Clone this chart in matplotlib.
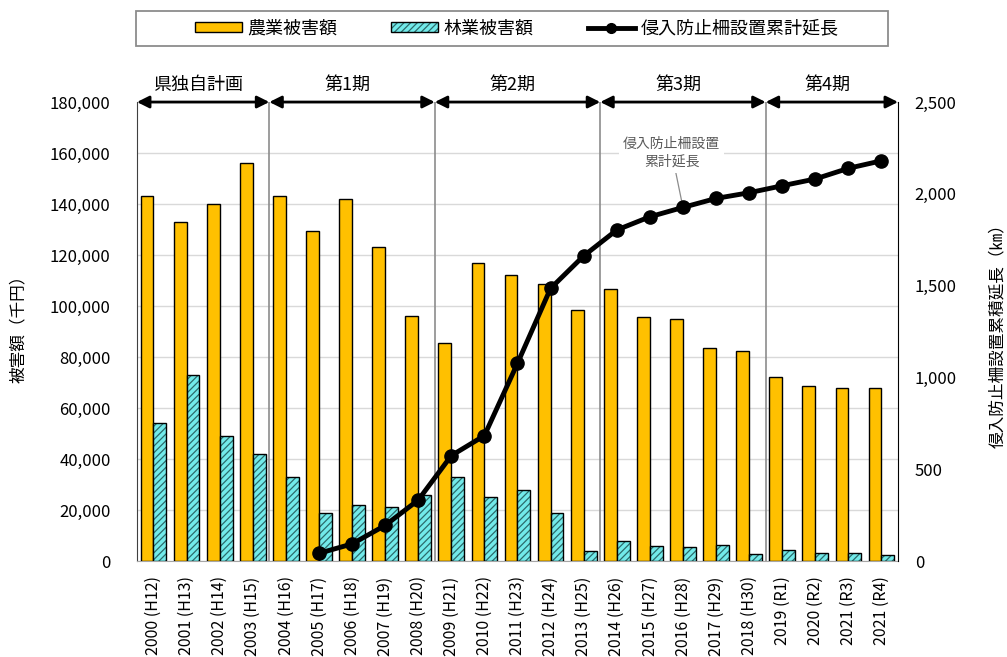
import matplotlib
matplotlib.use("Agg")
import matplotlib.pyplot as plt
import numpy as np
from matplotlib.lines import Line2D
from matplotlib.patches import Patch, Rectangle

plt.rcParams["font.family"] = ["Noto Sans CJK JP", "DejaVu Sans"]
plt.rcParams["hatch.linewidth"] = 0.9

# ---- data ----
years = ["2000 (H12)", "2001 (H13)", "2002 (H14)", "2003 (H15)", "2004 (H16)",
         "2005 (H17)", "2006 (H18)", "2007 (H19)", "2008 (H20)", "2009 (H21)",
         "2010 (H22)", "2011 (H23)", "2012 (H24)", "2013 (H25)", "2014 (H26)",
         "2015 (H27)", "2016 (H28)", "2017 (H29)", "2018 (H30)", "2019 (R1)",
         "2020 (R2)", "2021 (R3)", "2021 (R4)"]
agri = [143000, 133000, 140000, 156000, 143000, 129500, 141800, 123300, 96000,
        85500, 116800, 112200, 108500, 98500, 106700, 95800, 95000, 83500,
        82500, 72000, 68500, 68000, 68000]
forest = [54000, 73000, 49000, 42000, 33000, 19000, 22000, 21000, 26000,
          33000, 25000, 28000, 19000, 4000, 7800, 5700, 5600, 6100,
          2800, 4400, 3200, 3300, 2500]
fence = [None, None, None, None, None, 42, 93, 194, 332, 574, 683, 1077,
         1485, 1662, 1803, 1875, 1926, 1975, 2006, 2044, 2081, 2139, 2180]
periods = ["県独自計画", "第1期", "第2期", "第3期", "第4期"]
period_bounds = [-0.5, 3.5, 8.5, 13.5, 18.5, 22.5]

ORANGE = "#FFC000"
CYAN = "#72EAEA"
HATCH = "#2C6B6B"

x = np.arange(len(years))
w = 0.39

fig = plt.figure(figsize=(10.07, 6.57), dpi=100)
ax = fig.add_axes([0.136, 0.1461, 0.7558, 0.6986])

ax.bar(x - w / 2, agri, w, color=ORANGE, edgecolor="black", lw=1, zorder=3)
ax.bar(x + w / 2, forest, w, color=CYAN, edgecolor=HATCH, lw=0, hatch="/////", zorder=3)
ax.bar(x + w / 2, forest, w, fill=False, edgecolor="black", lw=1, zorder=3)

ax.set_xlim(-0.5, 22.5)
ax.set_ylim(0, 180000)
ax.set_yticks(np.arange(0, 180001, 20000))
ax.set_yticklabels([f"{v:,}" for v in range(0, 180001, 20000)], fontsize=12)
ax.set_xticks(x)
ax.set_xticklabels(years, rotation=90, fontsize=11.5)
ax.tick_params(axis="y", length=0, pad=19)
ax.tick_params(axis="x", length=0, pad=11)
ax.grid(axis="y", color="#d9d9d9", lw=1, zorder=0)

for s in ("top",):
    ax.spines[s].set_visible(False)
ax.spines["bottom"].set_color("#a6a6a6")
ax.spines["left"].set_color("#404040")
ax.spines["right"].set_visible(False)

for b in period_bounds[1:-1]:
    ax.axvline(b, color="#8c8c8c", lw=1.2, zorder=2)

# period arrows + labels
for i, name in enumerate(periods):
    x0, x1 = period_bounds[i], period_bounds[i + 1]
    ax.annotate("", xy=(x0, 180000), xytext=(x1, 180000), annotation_clip=False,
                arrowprops=dict(arrowstyle="<|-|>", color="black", lw=2,
                                mutation_scale=18, shrinkA=0, shrinkB=0), zorder=5)
    ax.text((x0 + x1) / 2 - 0.15, 1.037, name, transform=ax.get_xaxis_transform(),
            ha="center", va="center", fontsize=13)

ax2 = ax.twinx()
ax2.set_ylim(0, 2500)
ax2.set_yticks(np.arange(0, 2501, 500))
ax2.set_yticklabels([f"{v:,}" for v in range(0, 2501, 500)], fontsize=12)
ax2.tick_params(axis="y", length=0, pad=12)
for s in ("top", "left", "bottom"):
    ax2.spines[s].set_visible(False)
ax2.spines["right"].set_color("black")

fx = [xi for xi, v in zip(x, fence) if v is not None]
fy = [v for v in fence if v is not None]
ax2.plot(fx, fy, color="black", lw=3.5, marker="o", ms=9.5, zorder=6)

ax2.annotate("侵入防止柵設置\n累計延長", xy=(16, 1926), xytext=(15.66, 2225),
             ha="center", va="center", fontsize=10, color="#595959", linespacing=1.35,
             bbox=dict(boxstyle="square,pad=0.3", fc="white", ec="none"),
             arrowprops=dict(arrowstyle="-", color="#8c8c8c", lw=0.9, shrinkA=0, shrinkB=3))

fig.text(0.018, 1 - 325 / 657, "被害額（千円）", rotation=90, ha="center", va="center", fontsize=12)
fig.text(0.991, 1 - 332 / 657, "侵入防止柵設置累積延長（㎞）", rotation=90, ha="center",
         va="center", fontsize=12)

# legend
h_agri = Patch(facecolor=ORANGE, edgecolor="black", lw=1)
h_for = (Patch(facecolor=CYAN, edgecolor=HATCH, lw=0, hatch="/////"),
         Patch(fill=False, edgecolor="black", lw=1))
h_line = Line2D([], [], color="black", lw=3.5, marker="o", ms=7)
fig.legend([h_agri, h_for, h_line], ["農業被害額", "林業被害額", "侵入防止柵設置累計延長"],
           loc="center", bbox_to_anchor=(0.513, 1 - 28.5 / 657), ncol=3, frameon=False,
           fontsize=13, handlelength=2.6, handleheight=0.45, handletextpad=0.3,
           columnspacing=3.0)
fig.patches.append(Rectangle((136 / 1007, 1 - 46 / 657), 752 / 1007, 35.5 / 657,
                             transform=fig.transFigure, fill=False, ec="#8c8c8c", lw=1.3))

fig.savefig("out.png", dpi=100)
